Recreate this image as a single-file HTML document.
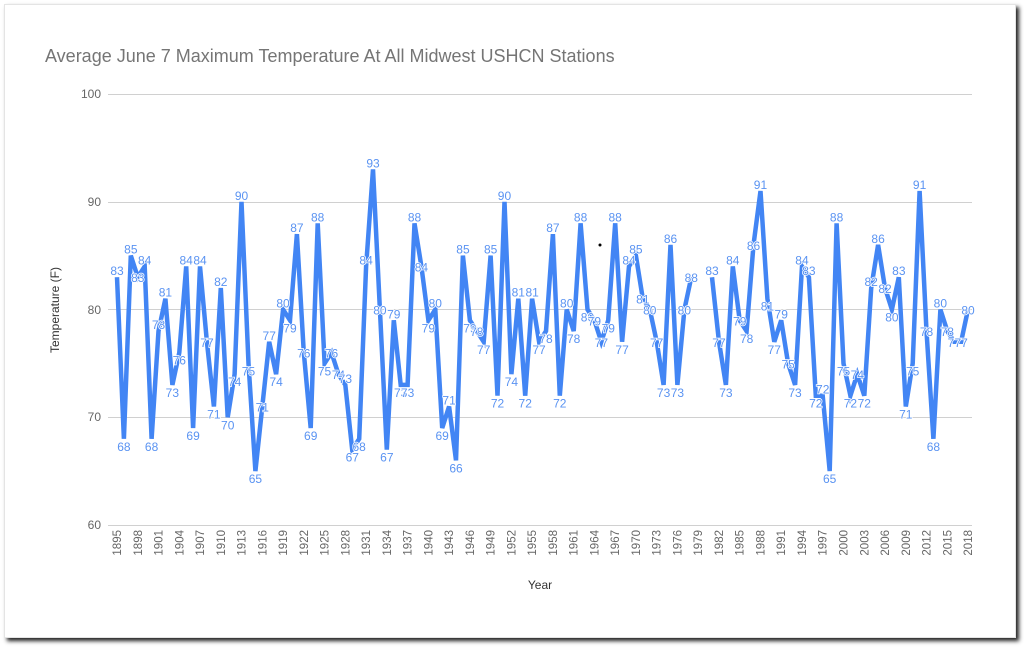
<!DOCTYPE html>
<html><head><meta charset="utf-8"><style>
html,body{margin:0;padding:0;width:1024px;height:647px;background:#fff;overflow:hidden}
#card{position:absolute;left:4px;top:4px;width:1010px;height:632px;background:#fff;border:1px solid #e4e4e4;box-shadow:3px 3px 4px #222}
svg{position:absolute;left:0;top:0}
text{font-family:"Liberation Sans",sans-serif}
#lb text{font-size:12px;fill:#5a93f2;stroke:#fff;stroke-width:1.5px;paint-order:stroke;text-anchor:middle}
#xt text{font-size:11.5px;fill:#666;text-anchor:end}
</style></head><body>
<div id="card"></div>
<svg width="1024" height="647" xmlns="http://www.w3.org/2000/svg">
<text x="45" y="62" font-size="18" fill="#757575">Average June 7 Maximum Temperature At All Midwest USHCN Stations</text>
<g stroke="#d0d0d0" stroke-width="1">
<line x1="108" x2="972" y1="94.5" y2="94.5"/><line x1="108" x2="972" y1="202.5" y2="202.5"/><line x1="108" x2="972" y1="309.5" y2="309.5"/><line x1="108" x2="972" y1="417.5" y2="417.5"/><line x1="108" x2="972" y1="525.5" y2="525.5"/>
</g>
<g font-size="12" fill="#666" text-anchor="end">
<text x="101" y="98">100</text><text x="101" y="206">90</text><text x="101" y="314">80</text><text x="101" y="421">70</text><text x="101" y="529">60</text>
</g>
<text transform="translate(59,310) rotate(-90)" font-size="12" fill="#333" text-anchor="middle">Temperature (F)</text>
<text x="540" y="589" font-size="12" fill="#333" text-anchor="middle">Year</text>
<g id="xt"><text>1895</text><text>1898</text><text>1901</text><text>1904</text><text>1907</text><text>1910</text><text>1913</text><text>1916</text><text>1919</text><text>1922</text><text>1925</text><text>1928</text><text>1931</text><text>1934</text><text>1937</text><text>1940</text><text>1943</text><text>1946</text><text>1949</text><text>1952</text><text>1955</text><text>1958</text><text>1961</text><text>1964</text><text>1967</text><text>1970</text><text>1973</text><text>1976</text><text>1979</text><text>1982</text><text>1985</text><text>1988</text><text>1991</text><text>1994</text><text>1997</text><text>2000</text><text>2003</text><text>2006</text><text>2009</text><text>2012</text><text>2015</text><text>2018</text></g>
<g id="ln"></g>
<g id="lb"><text>83</text><text>68</text><text>85</text><text>83</text><text>84</text><text>68</text><text>78</text><text>81</text><text>73</text><text>76</text><text>84</text><text>69</text><text>84</text><text>77</text><text>71</text><text>82</text><text>70</text><text>74</text><text>90</text><text>75</text><text>65</text><text>71</text><text>77</text><text>74</text><text>80</text><text>79</text><text>87</text><text>76</text><text>69</text><text>88</text><text>75</text><text>76</text><text>74</text><text>73</text><text>67</text><text>68</text><text>84</text><text>93</text><text>80</text><text>67</text><text>79</text><text>73</text><text>73</text><text>88</text><text>84</text><text>79</text><text>80</text><text>69</text><text>71</text><text>66</text><text>85</text><text>79</text><text>78</text><text>77</text><text>85</text><text>72</text><text>90</text><text>74</text><text>81</text><text>72</text><text>81</text><text>77</text><text>78</text><text>87</text><text>72</text><text>80</text><text>78</text><text>88</text><text>80</text><text>79</text><text>77</text><text>79</text><text>88</text><text>77</text><text>84</text><text>85</text><text>81</text><text>80</text><text>77</text><text>73</text><text>86</text><text>73</text><text>80</text><text>88</text><text></text><text></text><text>83</text><text>77</text><text>73</text><text>84</text><text>79</text><text>78</text><text>86</text><text>91</text><text>81</text><text>77</text><text>79</text><text>75</text><text>73</text><text>84</text><text>83</text><text>72</text><text>72</text><text>65</text><text>88</text><text>75</text><text>72</text><text>74</text><text>72</text><text>82</text><text>86</text><text>82</text><text>80</text><text>83</text><text>71</text><text>75</text><text>91</text><text>78</text><text>68</text><text>80</text><text>78</text><text>77</text><text>77</text><text>80</text></g>
<circle cx="600" cy="245" r="1.5" fill="#000"/>
</svg>
<script>
var v=[83,68,85,83,84,68,78,81,73,76,84,69,84,77,71,82,70,74,90,75,65,71,77,74,80,79,87,76,69,88,75,76,74,73,67,68,84,93,80,67,79,73,73,88,84,79,80,69,71,66,85,79,78,77,85,72,90,74,81,72,81,77,78,87,72,80,78,88,80,79,77,79,88,77,84,85,81,80,77,73,86,73,80,83,null,null,83,77,73,84,79,78,86,91,81,77,79,75,73,84,83,72,72,65,88,75,72,74,72,82,86,82,80,83,71,75,91,78,68,80,78,77,77,80];
function X(i){return 117+i*6.919}function Y(t){return 94+(100-t)*10.775}
var NS="http://www.w3.org/2000/svg",ln=document.getElementById('ln'),segs=[],cur=[];
v.forEach(function(t,i){if(t===null){if(cur.length)segs.push(cur);cur=[];}else cur.push(X(i).toFixed(1)+","+Y(t).toFixed(1));});
if(cur.length)segs.push(cur);
segs.forEach(function(s){var p=document.createElementNS(NS,'polyline');p.setAttribute('points',s.join(' '));p.setAttribute('fill','none');p.setAttribute('stroke','#4285f4');p.setAttribute('stroke-width','4.5');p.setAttribute('stroke-linejoin','miter');p.setAttribute('stroke-miterlimit','4');ln.appendChild(p);});
var ts=document.querySelectorAll('#lb text');
ts.forEach(function(e,i){var t=v[i];if(t===null)return;var a=v[i-1]==null?t:v[i-1],b=v[i+1]==null?t:v[i+1];var m=(a+b)/2,dy;if(t>m+2)dy=-2;else if(t<m-2)dy=12;else dy=5;e.setAttribute('x',X(i));e.setAttribute('y',Y(t)+dy);});
document.querySelectorAll('#xt text').forEach(function(e,k){var x=X(3*k)+4;e.setAttribute('transform','translate('+x+',530) rotate(-90)');});
</script>
</body></html>
